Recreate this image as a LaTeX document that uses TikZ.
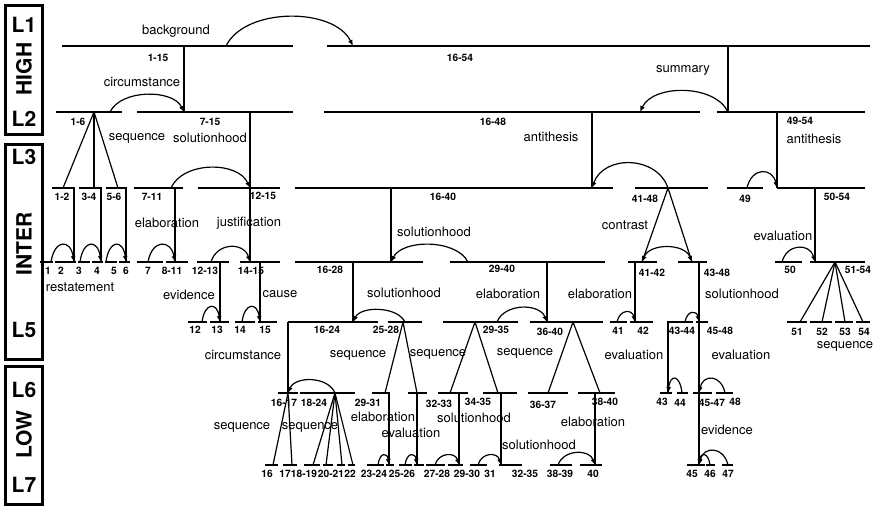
\documentclass[tikz,border=0pt]{standalone}
\usepackage{fontspec}
\setmainfont{TeX Gyre Heros}
\usetikzlibrary{arrows.meta,calc}

\tikzset{
    spanline/.style={line width=1.8pt},
    conn/.style={line width=1.2pt},
    relarc/.style={line width=1.2pt, -{Latex[length=6pt,width=5pt]}},
    relboth/.style={line width=1.2pt, {Latex[length=6pt,width=5pt]}-{Latex[length=6pt,width=5pt]}},
    rellab/.style={font=\fontsize{13}{15}\selectfont, inner sep=0pt},
    numlab/.style={font=\bfseries\fontsize{10.2}{12}\selectfont, inner sep=0pt},
    levellab/.style={font=\bfseries\fontsize{21}{24}\selectfont, inner sep=0pt},
    levelbox/.style={line width=3pt}
}

\begin{document}
\begin{tikzpicture}[x=1pt, y=-1pt]
    \useasboundingbox (0,0) rectangle (878,507);

    \draw[levelbox] (5,5) rectangle (42,134);
    \draw[levelbox] (5,144) rectangle (42,359);
    \draw[levelbox] (5,366) rectangle (42,504);
    \node[levellab] (lvl1) at (24,25) {L1};
    \node[levellab, rotate=90] (lvhigh) at (24,69) {HIGH};
    \node[levellab] (lvl2) at (24,119) {L2};
    \node[levellab] (lvl3) at (24,157) {L3};
    \node[levellab, rotate=90] (lvinter) at (24,244) {INTER};
    \node[levellab] (lvl5) at (24,330) {L5};
    \node[levellab] (lvl6) at (24,390) {L6};
    \node[levellab, rotate=90] (lvlow) at (24,435) {LOW};
    \node[levellab] (lvl7) at (24,485) {L7};

    \foreach \y/\segs in {46/{62/293, 327/870},
        112/{56/122, 137/293, 324/700, 717/865},
        188/{52/75, 79/102, 106/127, 134/183, 198/280, 295/613, 635/708, 727/763, 777/865},
        262/{40/53, 55/76, 78/90, 92/103, 105/117, 119/130, 137/163, 166/188, 197/229, 240/280, 295/423, 450/605, 628/657, 678/707, 775/802, 810/865},
        322/{188/207, 210/229, 235/255, 258/277, 288/378, 388/422, 443/518, 530/603, 610/627, 630/653, 667/693, 696/708, 787/807, 810/832, 835/853, 856/870},
        393/{278/298, 300/355, 372/390, 408/427, 438/468, 483/517, 528/568, 578/615, 660/672, 677/688, 693/712, 716/733},
        465/{265/278, 283/297, 304/320, 323/333, 337/345, 348/355, 367/384, 386/394, 399/412, 414/424, 426/445, 448/463, 470/487, 499/522, 550/572, 580/602, 687/705, 706/715, 722/733}}
        \foreach \a/\b in \segs
            \draw[spanline] (\a,\y) -- (\b,\y);

    \foreach \y/\pts in {46/{d1-15/184, a1-15/226, t16-54/353, d16-54/728},
        112/{d1-6/94, a1-6/110, t7-15/184, d7-15/250, d16-48/592, t16-48/640, t49-54/728, d49-54/777},
        188/{t1-2/63, d1-2/74, t3-4/94, d3-4/101, t5-6/118, d5-6/126, a7-11/171, d7-11/175, t12-15/250, d16-40/391, t16-40/592, d41-48/668, a49/747, t50-54/777, d50-54/815},
        262/{a1/51, t2/74, a3/80, t4/101, a5/106, t6/126, a7/148, t8-11/175, a12-13/211, d12-13/220, t14-15/250, d14-15/260, d16-28/353, t16-28/391, a29-40/468, d29-40/547, d41-42/635, t41-42/642, t43-48/692, d43-48/699, a50/782, t51-54/815, d51-54/835},
        322/{a12/202, t13/220, a14/242, t15/260, d16-24/288, t16-24/353, d25-28/403, a25-28/405, d29-35/475, a29-35/497, t36-40/547, d36-40/573, a41/617, t42/635, d43-44/668, a43-44/685, t45-48/699, t51/800, t52/822, t53/845, t54/863},
        393/{t16-17/288, a18-24/335, t29-31/385, d29-31/389, t25-28r/417, t32-33/450, d32-33/459, t34-35/498, d34-35/501, t36-37/548, d38-40/595, t38-40/600, t43/668, a44/682, t45-47/699, a48/725},
        465/{t16/273, t17/292, t18-19/313, t20-21/326, t21x/342, t22/353, a23-24/378, t25-26/389, a26x/405, t27x/417, a27-28/435, t29-30/459, a31/478, t32-35/501, a38-39/558, t40/595, t45/699, a46/710, a47/728}}
        \foreach \n/\x in \pts
            \coordinate (\n) at (\x,\y);

    \foreach \p/\c in {d1-15/t7-15, d16-54/t49-54, d7-15/t12-15, d16-48/t16-40, d49-54/t50-54,
        d1-6/t1-2, d1-6/t3-4, d1-6/t5-6, d1-2/t2, d3-4/t4, d5-6/t6, d7-11/t8-11,
        t12-15/t14-15, d16-40/t16-28, d50-54/t51-54, d41-48/t41-42, d41-48/t43-48,
        d12-13/t13, d14-15/t15, d16-28/t16-24, d29-40/t36-40, d41-42/t42, d43-48/t45-48,
        d51-54/t51, d51-54/t52, d51-54/t53, d51-54/t54,
        d16-24/t16-17, d25-28/t29-31, d25-28/t25-28r, d29-35/t32-33, d29-35/t34-35,
        d36-40/t36-37, d36-40/t38-40, d43-44/t43, t45-48/t45-47,
        t16-17/t16, t16-17/t17, a18-24/t18-19, a18-24/t20-21, a18-24/t21x, a18-24/t22,
        d29-31/t25-26, t25-28r/t27x, d32-33/t29-30, d34-35/t32-35, d38-40/t40, t45-47/t45}
        \draw[conn] (\p) -- (\c);

    \foreach \s/\e/\h in {a1-15/t16-54/39, a1-6/t7-15/23, t49-54/t16-48/28, a7-11/t12-15/27,
        d41-48/t16-40/33, a49/t50-54/21, a1/t2/23, a3/t4/23, a5/t6/23, a7/t8-11/23,
        a12-13/t14-15/20, a29-40/t16-28/23, a50/t51-54/19, a12/t13/20, a14/t15/20,
        a25-28/t16-24/16, a29-35/t36-40/19, a41/t42/13, a43-44/t45-48/12,
        a18-24/t16-17/17, a44/t43/19, a48/t45-47/19, a23-24/t25-26/13, a26x/t27x/13,
        a27-28/t29-30/13, a31/t32-35/13, a38-39/t40/16, a46/t45/13, a47/t45/19}
        \draw[relarc] (\s) .. controls ($(\s)!0.15!(\e)+(0,-\h)$) and ($(\e)!0.15!(\s)+(0,-\h)$) .. (\e);
    \draw[relboth] (t41-42) .. controls ($(t41-42)!0.15!(t43-48)+(0,-19)$) and ($(t43-48)!0.15!(t41-42)+(0,-19)$) .. (t43-48);

    \foreach \t/\x/\y [count=\i] in {background/176/31, circumstance/142/82, summary/683/70,
        sequence/137/138, solutionhood/210/138, antithesis/551/137, antithesis/814/139,
        elaboration/167/223, justification/249/223, solutionhood/434/232, contrast/625/225,
        evaluation/783/236, restatement/80/287, evidence/189/295, cause/280/294,
        solutionhood/404/293, elaboration/508/294, elaboration/600/294, solutionhood/742/294,
        sequence/845/346, circumstance/243/355, sequence/358/355, sequence/438/354,
        sequence/525/353, evaluation/634/355, evaluation/741/355, elaboration/383/417,
        evaluation/411/433, sequence/242/427, sequence/310/427, solutionhood/474/418,
        solutionhood/539/445, elaboration/593/422, evidence/727/430}
        \node[rellab] (rel\i) at (\x,\y) {\t};

    \foreach \t/\x/\y [count=\i] in {1-15/158/58, 16-54/460/58, 1-6/78/122, 7-15/210/122,
        16-48/493/122, 49-54/800/121, 1-2/62/197, 3-4/89/197, 5-6/114/197, 7-11/152/197,
        12-15/263/196, 16-40/443/197, 41-48/645/199, 49/745/199, 50-54/837/197,
        1/48/271, 2/61/271, 3/79/271, 4/97/271, 5/114/271, 6/126/271, 7/148/271,
        8-11/172/271, 12-13/205/271, 14-15/251/271, 16-28/330/270, 29-40/502/269,
        41-42/652/273, 43-48/717/273, 50/790/270, 51-54/858/270,
        12/195/330, 13/217/330, 14/240/330, 15/265/330, 16-24/327/330, 25-28/386/330,
        29-35/496/330, 36-40/550/332, 41/618/331, 42/643/331, 43-44/682/331, 45-48/720/331,
        51/797/332, 52/822/332, 53/845/332, 54/864/332,
        16-17/284/403, 18-24/314/403, 29-31/368/403, 32-33/439/404, 34-35/478/402,
        36-37/543/405, 38-40/605/402, 43/662/402, 44/680/403, 45-47/712/403, 48/735/402,
        16/267/474, 17/285/474, 18-19/304/474, 20-21/331/474, 22/350/474, 23-24/374/474,
        25-26/402/474, 27-28/437/474, 29-30/467/474, 31/490/474, 32-35/525/474,
        38-39/560/474, 40/593/474, 45/692/474, 46/710/474, 47/728/474}
        \node[numlab] (num\i) at (\x,\y) {\t};
\end{tikzpicture}
\end{document}
